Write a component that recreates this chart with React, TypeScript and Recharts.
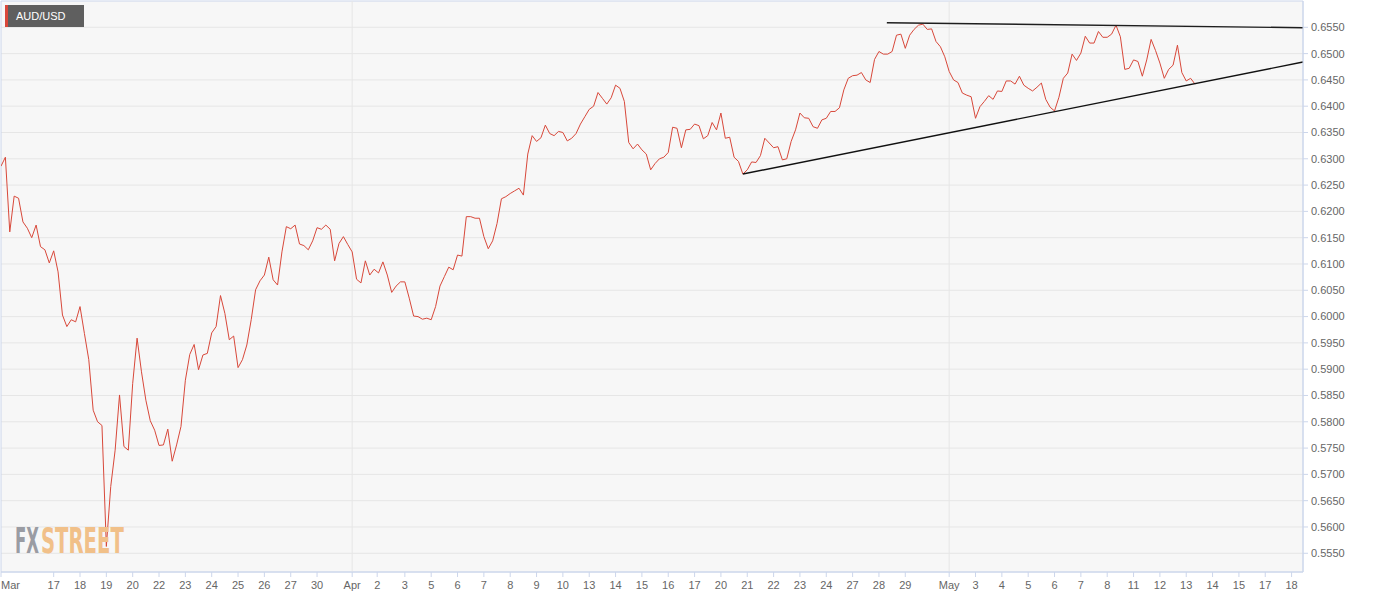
import React from 'react';
import { LineChart, Line, XAxis, YAxis, CartesianGrid, ReferenceLine, ReferenceArea } from 'recharts';

// AUD/USD 4-hour closes, one value per bar (bar index = position in array)
const prices: number[] = [
  0.6286, 0.6303, 0.6161, 0.6229, 0.6225, 0.6180, 0.6168, 0.6150, 0.6174, 0.6133,
  0.6127, 0.6102, 0.6125, 0.6085, 0.6003, 0.5981, 0.5994, 0.5990, 0.6019, 0.5968,
  0.5918, 0.5822, 0.5800, 0.5793, 0.5563, 0.5677, 0.5746, 0.5851, 0.5753, 0.5746,
  0.5873, 0.5959, 0.5895, 0.5841, 0.5802, 0.5784, 0.5755, 0.5756, 0.5786, 0.5725,
  0.5756, 0.5791, 0.5879, 0.5928, 0.5947, 0.5899, 0.5927, 0.5930, 0.5969, 0.5981,
  0.6040, 0.6006, 0.5956, 0.5963, 0.5903, 0.5918, 0.5946, 0.5994, 0.6051, 0.6068,
  0.6079, 0.6113, 0.6070, 0.6060, 0.6123, 0.6171, 0.6167, 0.6174, 0.6138, 0.6135,
  0.6127, 0.6144, 0.6169, 0.6166, 0.6174, 0.6166, 0.6106, 0.6139, 0.6152, 0.6137,
  0.6123, 0.6071, 0.6064, 0.6106, 0.6079, 0.6090, 0.6083, 0.6104, 0.6079, 0.6046,
  0.6058, 0.6066, 0.6066, 0.6035, 0.6001, 0.6000, 0.5995, 0.5997, 0.5994, 0.6019,
  0.6058, 0.6076, 0.6094, 0.6089, 0.6117, 0.6115, 0.6190, 0.6190, 0.6187, 0.6187,
  0.6152, 0.6129, 0.6144, 0.6177, 0.6224, 0.6228, 0.6234, 0.6239, 0.6244, 0.6231,
  0.6309, 0.6344, 0.6333, 0.6340, 0.6364, 0.6348, 0.6344, 0.6352, 0.6350, 0.6334,
  0.6339, 0.6348, 0.6366, 0.6380, 0.6394, 0.6400, 0.6426, 0.6415, 0.6404, 0.6416,
  0.6440, 0.6434, 0.6409, 0.6331, 0.6319, 0.6328, 0.6317, 0.6309, 0.6279, 0.6291,
  0.6300, 0.6303, 0.6312, 0.6360, 0.6358, 0.6321, 0.6355, 0.6356, 0.6366, 0.6363,
  0.6338, 0.6344, 0.6369, 0.6355, 0.6387, 0.6339, 0.6341, 0.6303, 0.6295, 0.6271,
  0.6279, 0.6294, 0.6293, 0.6306, 0.6339, 0.6330, 0.6321, 0.6323, 0.6298, 0.6300,
  0.6333, 0.6355, 0.6387, 0.6378, 0.6377, 0.6361, 0.6358, 0.6374, 0.6377, 0.6390,
  0.6390, 0.6397, 0.6431, 0.6453, 0.6458, 0.6459, 0.6464, 0.6450, 0.6445, 0.6489,
  0.6504, 0.6499, 0.6499, 0.6504, 0.6535, 0.6537, 0.6510, 0.6535, 0.6546, 0.6554,
  0.6556, 0.6546, 0.6547, 0.6523, 0.6513, 0.6494, 0.6466, 0.6450, 0.6445, 0.6425,
  0.6421, 0.6418, 0.6377, 0.6399, 0.6409, 0.6420, 0.6413, 0.6429, 0.6428, 0.6448,
  0.6448, 0.6442, 0.6457, 0.6440, 0.6434, 0.6429, 0.6436, 0.6444, 0.6413, 0.6398,
  0.6391, 0.6417, 0.6453, 0.6463, 0.6499, 0.6487, 0.6501, 0.6533, 0.6520, 0.6520,
  0.6542, 0.6531, 0.6531, 0.6537, 0.6554, 0.6532, 0.6470, 0.6472, 0.6488, 0.6485,
  0.6457, 0.6488, 0.6527, 0.6506, 0.6482, 0.6453, 0.6470, 0.6478, 0.6516, 0.6464,
  0.6448, 0.6453, 0.6442,
];

// X axis tick positions (in bars) and their labels
const xTickPos: number[] = [
  0, 12, 18, 24, 30, 36, 42, 48, 54, 60, 66, 72, 80, 85.7, 92, 98,
  104, 110, 116, 122, 128, 134, 140, 146, 152, 158, 164, 170, 176, 182, 188, 194, 200, 206,
  216, 222, 228, 234, 240, 246, 252, 258, 264, 270, 276, 282, 288, 294,
];
const xTickLabels: string[] = [
  'Mar', '17', '18', '19', '20', '22', '23', '24', '25', '26', '27', '30', 'Apr', '2', '3', '5',
  '6', '7', '8', '9', '10', '13', '14', '15', '16', '17', '20', '21', '22', '23', '24', '27', '28', '29',
  'May', '3', '4', '5', '6', '7', '8', '11', '12', '13', '14', '15', '17', '18',
];
const monthBreaks: number[] = [80, 216];

const yTicks: number[] = [
  0.555, 0.56, 0.565, 0.57, 0.575, 0.58, 0.585, 0.59, 0.595, 0.6, 0.605,
  0.61, 0.615, 0.62, 0.625, 0.63, 0.635, 0.64, 0.645, 0.65, 0.655,
];

// Trend lines (bar, price)
const resistance = [{ x: 201.8, y: 0.65587 }, { x: 296.6, y: 0.65492 }];
const support = [{ x: 169, y: 0.62711 }, { x: 296.6, y: 0.6484 }];

const X_MAX = 296.6;
const Y_MIN = 0.55144;
const Y_MAX = 0.66;

const rows = prices.map((p, i) => ({ i, p }));

const FONT = '"Liberation Sans", Arial, sans-serif';
const WM_FONT = '"DejaVu Sans Condensed", "DejaVu Sans", sans-serif';

const XTick = (props: any) => {
  const { x, y, payload } = props;
  const idx = xTickPos.indexOf(payload.value);
  const label = idx >= 0 ? xTickLabels[idx] : '';
  const anchor = idx === 0 ? 'start' : 'middle';
  return (
    <text x={x} y={y} dy="0.71em" textAnchor={anchor} fill="#666666" fontSize={11} fontFamily={FONT}>
      {label}
    </text>
  );
};

export default function App() {
  return (
    <div style={{ position: 'absolute', left: 0, top: 0, width: 1387, height: 598, background: '#ffffff' }}>
      <LineChart width={1387} height={598} data={rows} margin={{ top: 1, right: 0, left: 1, bottom: 0 }}>
        <CartesianGrid vertical={false} stroke="#e6e6e6" fill="#f7f7f7" horizontalValues={yTicks} />
        <XAxis
          dataKey="i"
          type="number"
          domain={[0, X_MAX]}
          ticks={xTickPos}
          interval={0}
          allowDataOverflow
          height={26}
          tickSize={5}
          tickMargin={4}
          axisLine={{ stroke: '#ccd6eb' }}
          tickLine={{ stroke: '#ccd6eb' }}
          tick={<XTick />}
        />
        <YAxis
          orientation="right"
          type="number"
          domain={[Y_MIN, Y_MAX]}
          ticks={yTicks}
          interval={0}
          allowDataOverflow
          width={84}
          tickSize={5}
          tickMargin={3}
          axisLine={{ stroke: '#ccd6eb' }}
          tickLine={{ stroke: '#ccd6eb' }}
          tick={{ fill: '#666666', fontSize: 11, fontFamily: FONT }}
          tickFormatter={(v: number) => v.toFixed(4)}
        />
        {monthBreaks.map((m) => (
          <ReferenceLine key={m} x={m} stroke="#e6e6e6" strokeWidth={1} />
        ))}
        <ReferenceArea x1={0} x2={X_MAX} y1={Y_MIN} y2={Y_MAX} fill="none" stroke="#ccd6eb" strokeWidth={1} ifOverflow="visible" />
        <Line
          type="linear"
          dataKey="p"
          stroke="#d8483a"
          strokeWidth={1}
          dot={false}
          activeDot={false}
          isAnimationActive={false}
        />
        <ReferenceLine segment={resistance} stroke="#1e1e1e" strokeWidth={1.4} ifOverflow="visible" />
        <ReferenceLine segment={support} stroke="#111111" strokeWidth={1.4} ifOverflow="visible" />
      </LineChart>

      <div
        style={{
          position: 'absolute', left: 5, top: 5, width: 79, height: 22,
          background: '#5f5f5f', borderLeft: '3px solid #d9473a',
          color: '#ffffff', fontFamily: FONT, fontSize: 11, lineHeight: '22px',
          paddingLeft: 8, boxSizing: 'border-box',
        }}
      >
        AUD/USD
      </div>

      <svg width={1387} height={598} style={{ position: 'absolute', left: 0, top: 0, pointerEvents: 'none' }}>
        <text transform="translate(15,553) scale(0.5,1)" x={0} y={0} fontSize={36} fontWeight="bold"
          fontFamily={WM_FONT} fill="#9a9ca3" textLength={48} lengthAdjust="spacingAndGlyphs">FX</text>
        <text transform="translate(41,553) scale(0.6,1)" x={0} y={0} fontSize={36} fontWeight="bold"
          fontFamily={WM_FONT} fill="#f1c089" textLength={138} lengthAdjust="spacingAndGlyphs">STREET</text>
      </svg>
    </div>
  );
}
